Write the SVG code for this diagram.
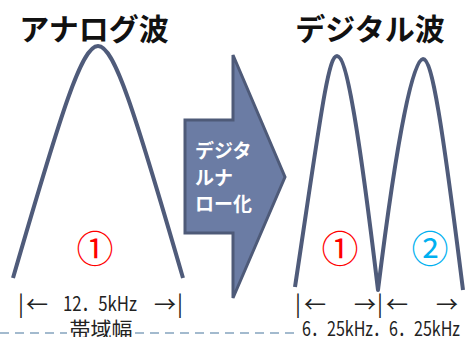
<svg xmlns="http://www.w3.org/2000/svg" width="466" height="337" viewBox="0 0 466 337">
<style>
.title{font-family:"Noto Sans CJK JP",sans-serif;font-weight:bold;font-size:30px;fill:#111;text-anchor:middle}
.wave{fill:none;stroke:#4F5B7A;stroke-width:4;stroke-linejoin:round}
.lbl{font-family:"Noto Sans CJK JP",sans-serif;font-weight:bold;font-size:19px;fill:#fff}
.num{font-family:"Noto Sans CJK JP",sans-serif;font-size:37px;text-anchor:middle}
.dim{font-family:"Noto Sans CJK JP",sans-serif;font-size:22px;fill:#222;text-anchor:middle}
.bar{font-family:"Noto Sans CJK JP",sans-serif;font-size:22px;fill:#222;text-anchor:middle}
.dimt{font-family:"Noto Sans CJK JP",sans-serif;font-size:20px;fill:#222}
</style>
<rect width="466" height="337" fill="#fff"/>
<line x1="0" y1="333" x2="466" y2="333" stroke="#A3BACE" stroke-width="2" stroke-dasharray="9 6"/>
<rect x="67" y="318" width="67" height="19" fill="#fff"/>
<rect x="298" y="318" width="168" height="19" fill="#fff"/>
<g id="analog">
<text class="title" x="94" y="40">アナログ波</text>
<path class="wave" d="M13,278 C62.3,108 82,46 98,46 C114,46 133.7,108 183,278"/>
<text class="num" x="95" y="263" fill="#FF0000">①</text>
</g>
<g id="digital">
<text class="title" x="370" y="40">デジタル波</text>
<path class="wave" d="M295,287 C320.5,117 328,56 337,56 C346,56 357.75,120 378,290 C399,120 414,59 423,59 C432,59 441.75,120 463,290"/>
<text class="num" x="340" y="263" fill="#FF0000">①</text>
<text class="num" x="430" y="263" fill="#00B0F0">②</text>
</g>
<g id="arrow">
<polygon points="185,120 233,120 233,55 285,177 233,298 233,233 185,233" fill="#6B7CA4" stroke="#4E5A78" stroke-width="3"/>
<text class="lbl" x="195" y="158">デジタ</text>
<text class="lbl" x="195" y="185">ルナ</text>
<text class="lbl" x="195" y="211">ロー化</text>
</g>
<g id="bandwidth">
<text class="bar" x="21" y="312">|</text>
<text class="dim" x="37" y="312">←</text>
<text class="dimt" x="63" y="311" textLength="74" lengthAdjust="spacingAndGlyphs">12．5kHz</text>
<text class="dim" x="165" y="312">→</text>
<text class="bar" x="180" y="312">|</text>
<text class="dim" x="101" y="337" style="font-size:21px">帯域幅</text>
</g>
<g id="digitalband">
<text class="bar" x="298" y="312">|</text>
<text class="dim" x="315" y="312">←</text>
<text class="dim" x="365" y="312">→</text>
<text class="bar" x="380" y="312">|</text>
<text class="dim" x="397" y="312">←</text>
<text class="dim" x="447" y="312">→</text>
<text class="dimt" x="302" y="336" textLength="158" lengthAdjust="spacingAndGlyphs">6．25kHz．6．25kHz</text>
</g>
</svg>
